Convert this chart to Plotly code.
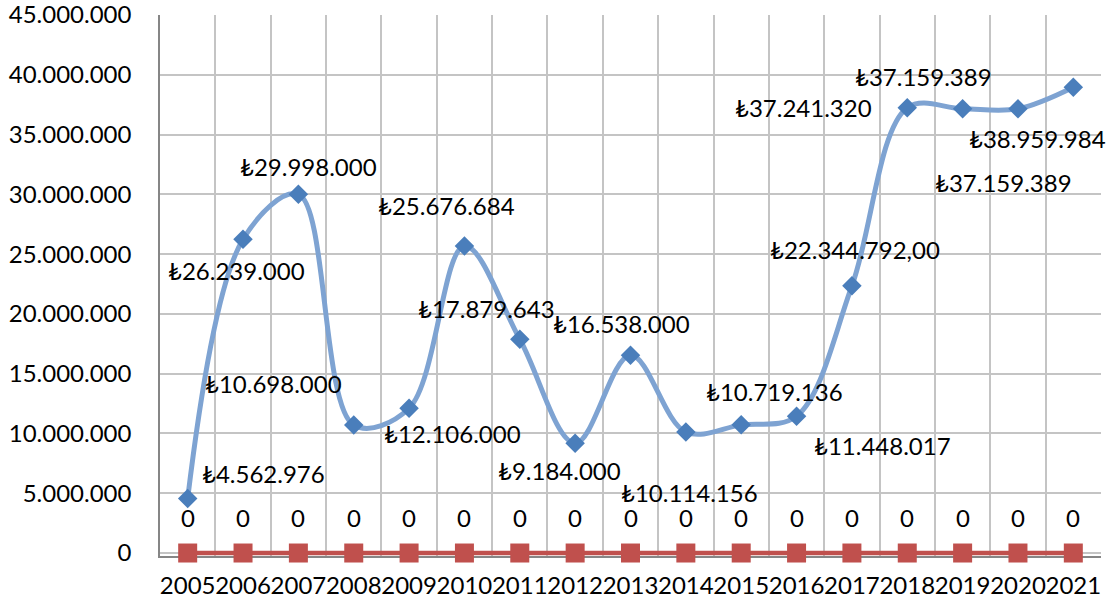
import plotly.graph_objects as go

years = [str(y) for y in range(2005, 2022)]
values = [4562976, 26239000, 29998000, 10698000, 12106000, 25676684, 17879643,
          9184000, 16538000, 10114156, 10719136, 11448017, 22344792, 37241320,
          37159389, 37159389, 38959984]
labels = ["₺4.562.976", "₺26.239.000", "₺29.998.000", "₺10.698.000", "₺12.106.000",
          "₺25.676.684", "₺17.879.643", "₺9.184.000", "₺16.538.000", "₺10.114.156",
          "₺10.719.136", "₺11.448.017", "₺22.344.792,00", "₺37.241.320",
          "₺37.159.389", "₺37.159.389", "₺38.959.984"]
zeros = [0] * 17
zero_labels = ["0"] * 17

# label offsets in pixels (style only)
dx = [76, -7, 10, -80, 43, -18, -33, -16, -9, 4, 33, 86, 3, -104, -39, -14, -36]
dy = [25, -31, 28, 42, -25, 41, 31, -27, 32, -60, 33, -29, 36, 0, 32, -74, -51]

FONT = "Lato"
FS = 24
fig = go.Figure()
fig.add_trace(go.Scatter(
    x=years, y=zeros, mode="lines+markers", cliponaxis=False,
    line=dict(color="#C0504D", width=4.5),
    marker=dict(symbol="square", size=19, color="#C0504D"),
    showlegend=False))
fig.add_trace(go.Scatter(
    x=years, y=values, mode="lines+markers", cliponaxis=False,
    line=dict(color="#7EA3D2", width=5, shape="spline", smoothing=1),
    marker=dict(symbol="diamond", size=15, color="#4A7EBB"),
    showlegend=False))

annotations = []
for i, y in enumerate(years):
    annotations.append(dict(x=i, y=values[i], xref="x", yref="y", text=labels[i],
                            showarrow=False, xshift=dx[i], yshift=dy[i],
                            font=dict(family=FONT, size=FS, color="#000000")))
    annotations.append(dict(x=i, y=zeros[i], xref="x", yref="y", text=zero_labels[i],
                            showarrow=False, yshift=36,
                            font=dict(family=FONT, size=FS, color="#000000")))

fig.update_layout(
    width=1118, height=603,
    margin=dict(l=160, r=17, t=15, b=47),
    paper_bgcolor="white", plot_bgcolor="white",
    separators=",.",
    annotations=annotations,
    font=dict(family=FONT, size=FS, color="#000000"),
    xaxis=dict(type="category", tickson="boundaries", showgrid=True, automargin=False,
               gridcolor="#C4C4C4", gridwidth=1.5, ticks="", ticklabelstandoff=7,
               tickangle=0, layer="below traces",
               showline=True, linecolor="#868686", linewidth=1.5, mirror=False,
               range=[-0.5, 16.5], tickfont=dict(family=FONT, size=FS)),
    yaxis=dict(range=[-250000, 45000000], tickvals=list(range(0, 45000001, 5000000)),
               tickformat=",d", automargin=False,
               showgrid=True, gridcolor="#C4C4C4", gridwidth=1.5,
               showline=True, linecolor="#868686", linewidth=1.5,
               ticks="", ticklabelstandoff=22, zeroline=False, layer="below traces",
               ticklabeloverflow="allow",
               tickfont=dict(family=FONT, size=FS)),
)
fig.write_html("out.html", config={"displayModeBar": False},
               post_script="document.body.style.margin='0px';document.body.style.overflow='hidden';")
